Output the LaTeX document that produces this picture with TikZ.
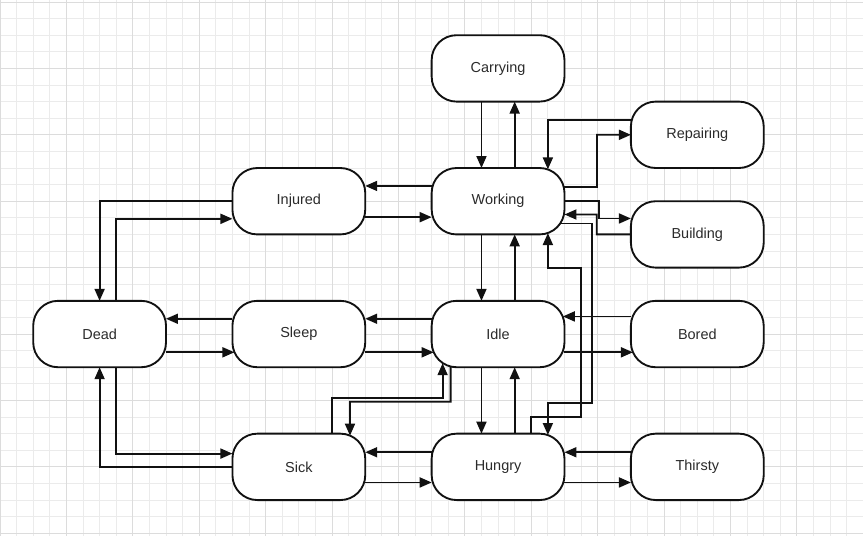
\documentclass[tikz,border=0pt]{standalone}
\usepackage{fontspec}
\setmainfont{Liberation Sans}
\usepackage{tikz}
\usetikzlibrary{arrows.meta}
\usetikzlibrary{positioning}
\usetikzlibrary{backgrounds}
\usepackage{xcolor}
\definecolor{myblack}{HTML}{111111}
\definecolor{mytext}{HTML}{2B2B2B}
\definecolor{gridminor}{HTML}{EBEBEB}
\definecolor{gridmajor}{HTML}{DCDCDC}
\tikzset{node distance=2cm, every text node part/.style={align=center, font={\fontsize{12.4}{15}\selectfont}}}
\tikzstyle{state} = [draw=myblack, fill=white, line width=1.6pt, rounded corners=0.75cm, minimum width=4cm, minimum height=2cm, inner sep=0pt, outer sep=0pt, text=mytext]
\tikzstyle{ln} = [draw=myblack, line width=1.6pt, -{Triangle[length=0.36cm,width=0.3cm]}]
\tikzstyle{minor} = [draw=gridminor, line width=0.8pt]
\tikzstyle{major} = [draw=gridmajor, line width=0.8pt]

\begin{document}
\begin{tikzpicture}
  \useasboundingbox (-15,-10.054) rectangle (10.99,6.06);
  \node[state] (working) {Working};
  \node[state, above=of working] (carrying) {Carrying};
  \node[state, left=of working] (injured) {Injured};
  \node[state, right=of working, yshift=2cm] (repairing) {Repairing};
  \node[state, right=of working, yshift=-1cm] (building) {Building};
  \node[state, below=of injured] (sleep) {Sleep};
  \node[state, left=of sleep] (dead) {Dead};
  \node[state, right=of sleep] (idle) {Idle};
  \node[state, right=of idle] (bored) {Bored};
  \node[state, below=of sleep] (sick) {Sick};
  \node[state, right=of sick] (hungry) {Hungry};
  \node[state, right=of hungry] (thirsty) {Thirsty};
  \begin{scope}[on background layer]
    % paper grid
    \fill[white] (-15,-10.054) rectangle (10.99,6.06);
    \draw[minor] (-15,-10.5) grid[step=0.5cm] (11.5,6.5);
    \foreach \gx in {-15,-13,...,11} \draw[major] (\gx,-10.5) -- (\gx,6.5);
    \foreach \gy in {-10,-8,...,6} \draw[major] (-15.5,\gy) -- (11.5,\gy);
    % vertical pairs
    \draw[ln] ([xshift=-0.5cm]carrying.south) -- ([xshift=-0.5cm]working.north);
    \draw[ln] ([xshift=0.5cm]working.north) -- ([xshift=0.5cm]carrying.south);
    \draw[ln] ([xshift=-0.5cm]working.south) -- ([xshift=-0.5cm]idle.north);
    \draw[ln] ([xshift=0.5cm]idle.north) -- ([xshift=0.5cm]working.south);
    \draw[ln] ([xshift=-0.5cm]idle.south) -- ([xshift=-0.5cm]hungry.north);
    \draw[ln] ([xshift=0.5cm]hungry.north) -- ([xshift=0.5cm]idle.south);
    % horizontal pairs
    \draw[ln] ([yshift=0.46cm]working.west) -- ([yshift=0.46cm]injured.east);
    \draw[ln] ([yshift=-0.48cm]injured.east) -- ([yshift=-0.48cm]working.west);
    \draw[ln] ([yshift=0.46cm]idle.west) -- ([yshift=0.46cm]sleep.east);
    \draw[ln] ([yshift=-0.55cm]sleep.east) -- ([xshift=0.06cm, yshift=-0.55cm]idle.west);
    \draw[ln] ([yshift=0.46cm]sleep.west) -- ([yshift=0.46cm]dead.east);
    \draw[ln] ([yshift=-0.55cm]dead.east) -- ([xshift=0.06cm, yshift=-0.55cm]sleep.west);
    \draw[ln] ([yshift=0.53cm]bored.west) -- ([xshift=-0.05cm, yshift=0.53cm]idle.east);
    \draw[ln] ([yshift=-0.55cm]idle.east) -- ([xshift=0.06cm, yshift=-0.55cm]bored.west);
    \draw[ln] ([yshift=0.44cm]hungry.west) -- ([yshift=0.44cm]sick.east);
    \draw[ln] ([yshift=-0.47cm]sick.east) -- ([yshift=-0.47cm]hungry.west);
    \draw[ln] ([yshift=0.44cm]thirsty.west) -- ([yshift=0.44cm]hungry.east);
    \draw[ln] ([yshift=-0.47cm]hungry.east) -- ([yshift=-0.47cm]thirsty.west);
    % dead
    \draw[ln] (injured.west) -| (dead.north);
    \draw[ln] ([xshift=0.5cm]dead.north) |- ([yshift=-0.53cm]injured.west);
    \draw[ln] ([xshift=0.5cm]dead.south) |- ([yshift=0.4cm]sick.west);
    \draw[ln] (sick.west) -| (dead.south);
    % right side
    \draw[ln] ([yshift=0.43cm]working.center) -| ++(2.98,1.57) -- (repairing.west);
    \draw[ln] ([yshift=0.45cm]repairing.center) -| ([xshift=1.5cm, yshift=-0.04cm]working.north);
    \draw[ln] (working.east) -| ++(1.05,-0.52) -- ([yshift=0.48cm]building.west);
    \draw[ln] (building.west) -| ++(-1.03,0.6) -- ([yshift=-0.4cm]working.east);
    \draw[ln] ([yshift=-0.67cm]working.center) -| ++(2.82,-5.4) -| ([xshift=1.5cm, yshift=-0.04cm]hungry.north);
    \draw[ln] ([xshift=1cm]hungry.north) -- ++(0,0.5) -| ++(1.5,4.5) -| ([xshift=1.5cm, yshift=0.04cm]working.south);
    % sick and idle
    \draw[ln] ([xshift=1cm]sick.north) -- ++(0,1.08) -| ([xshift=-1.67cm, yshift=0.12cm]idle.south);
    \draw[ln] ([xshift=-1.43cm]idle.center) |- ++(-3.03,-2.04) -- ([xshift=1.54cm, yshift=-0.06cm]sick.north);
  \end{scope}
\end{tikzpicture}
\end{document}
